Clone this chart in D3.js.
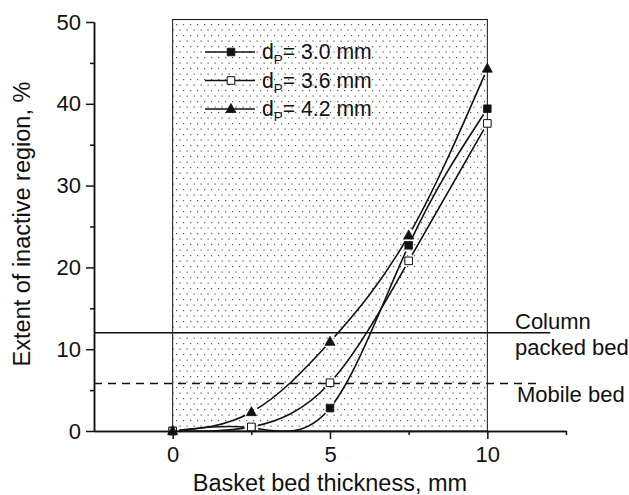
<!DOCTYPE html>
<html><head><meta charset="utf-8">
<script src="https://cdn.jsdelivr.net/npm/d3@7"></script>
<style>body{margin:0;background:#fff}svg{display:block}text{font-family:"Liberation Sans",Arial,sans-serif;fill:#111}</style>
</head><body><svg id="c" width="629" height="495"></svg>
<script>
const thickness = [0, 2.5, 5, 7.5, 10];
const dp30 = [0, 0.4, 2.8, 22.7, 39.4];
const dp36 = [0, 0.5, 5.9, 20.8, 37.6];
const dp42 = [0, 2.3, 10.9, 23.9, 44.3];
const seriesNames = ["3.0 mm", "3.6 mm", "4.2 mm"];
const seriesSymbols = ["filledSquare", "openSquare", "triangle"];
const xMajorTicks = [0, 5, 10];
const xMinorTicks = [2.5, 7.5, 12.5];
const yMajorTicks = [0, 10, 20, 30, 40, 50];
const yMinorTicks = [5, 15, 25, 35, 45];
const basketRegion = [0, 10];
const basketTop = 50.3;
const columnPackedLevel = 12.0;
const mobileBedLevel = 5.8;

const svg = d3.select("#c");
const x = d3.scaleLinear([-2.5, 12.5], [94, 566]);
const y = d3.scaleLinear([0, 50], [431, 22]);

const defs = svg.append("defs");
const pat = defs.append("pattern").attr("id", "dots").attr("patternUnits", "userSpaceOnUse")
  .attr("width", 7).attr("height", 11);
pat.append("rect").attr("width", 7).attr("height", 11).attr("fill", "#fff");
pat.append("rect").attr("x", 1).attr("y", 2).attr("width", 1.2).attr("height", 1.2).attr("fill", "#555");
pat.append("rect").attr("x", 4.5).attr("y", 7.5).attr("width", 1.2).attr("height", 1.2).attr("fill", "#555");

// basket region
svg.append("rect")
  .attr("x", x(basketRegion[0])).attr("y", y(basketTop))
  .attr("width", x(basketRegion[1]) - x(basketRegion[0]))
  .attr("height", y(0) - y(basketTop))
  .attr("fill", "url(#dots)").attr("stroke", "#111").attr("stroke-width", 1);

// reference lines
svg.append("line").attr("x1", x(-2.5)).attr("x2", x(12)).attr("y1", y(columnPackedLevel)).attr("y2", y(columnPackedLevel))
  .attr("stroke", "#111").attr("stroke-width", 1.5);
svg.append("line").attr("x1", x(-2.5)).attr("x2", x(11.7)).attr("y1", y(mobileBedLevel)).attr("y2", y(mobileBedLevel))
  .attr("stroke", "#111").attr("stroke-width", 1.5).attr("stroke-dasharray", "8,6");

svg.append("text").attr("x", 515).attr("y", 329).attr("font-size", 22).text("Column");
svg.append("text").attr("x", 515).attr("y", 355).attr("font-size", 22).text("packed bed");
svg.append("text").attr("x", 517).attr("y", 402).attr("font-size", 22).text("Mobile bed");

// axes
const ax = svg.append("g").attr("class", "axes");
ax.append("g").attr("transform", `translate(${x(-2.5)},0)`)
  .call(d3.axisLeft(y).tickValues(yMajorTicks).tickSize(8).tickSizeOuter(0).tickPadding(5));
ax.append("g").attr("transform", `translate(${x(-2.5)},0)`)
  .call(d3.axisLeft(y).tickValues(yMinorTicks).tickSize(4).tickSizeOuter(0).tickFormat(""));
ax.append("g").attr("transform", `translate(0,${y(0)})`)
  .call(d3.axisBottom(x).tickValues(xMajorTicks).tickSize(8).tickSizeOuter(0).tickPadding(7));
ax.append("g").attr("transform", `translate(0,${y(0)})`)
  .call(d3.axisBottom(x).tickValues(xMinorTicks).tickSize(4).tickSizeOuter(0).tickFormat(""));
ax.selectAll(".domain, .tick line").attr("stroke", "#111").attr("stroke-width", 1.5);
ax.selectAll(".tick text").attr("font-size", 22).attr("font-family", '"Liberation Sans",Arial,sans-serif').attr("fill", "#111");

svg.append("text").attr("x", 330).attr("y", 491).attr("text-anchor", "middle").attr("font-size", 23.5)
  .text("Basket bed thickness, mm");
svg.append("text").attr("transform", `translate(30,224) rotate(-90)`).attr("text-anchor", "middle").attr("font-size", 23.5)
  .text("Extent of inactive region, %");

// series
const allSeries = [dp30, dp36, dp42];
function symbolPath(kind) {
  if (kind === "triangle") return "M0,-5.5L5,3.5L-5,3.5Z";
  return "M-3.8,-3.8H3.8V3.8H-3.8Z";
}
function drawSymbol(g, kind, cx, cy) {
  g.append("path").attr("d", symbolPath(kind)).attr("transform", `translate(${cx},${cy})`)
    .attr("fill", kind === "openSquare" ? "#fff" : "#111")
    .attr("stroke", "#111").attr("stroke-width", kind === "openSquare" ? 1 : 0.8);
}
const line = d3.line().x((d, i) => x(thickness[i])).y(d => y(d)).curve(d3.curveNatural);

allSeries.forEach((vals, si) => {
  const m = defs.append("mask").attr("id", "gap" + si).attr("maskUnits", "userSpaceOnUse")
    .attr("x", 0).attr("y", 0).attr("width", 629).attr("height", 495);
  m.append("rect").attr("width", 629).attr("height", 495).attr("fill", "#fff");
  vals.forEach((v, i) => m.append("circle").attr("cx", x(thickness[i])).attr("cy", y(v)).attr("r", 7).attr("fill", "#000"));
  svg.append("path").datum(vals).attr("d", line).attr("fill", "none")
    .attr("stroke", "#111").attr("stroke-width", 1.6).attr("mask", `url(#gap${si})`);
});
const mk = svg.append("g");
allSeries.forEach((vals, si) => {
  vals.forEach((v, i) => drawSymbol(mk, seriesSymbols[si], x(thickness[i]), y(v)));
});

// legend
const lg = svg.append("g");
seriesNames.forEach((name, i) => {
  const cy = 52 + i * 28.5;
  lg.append("line").attr("x1", 205).attr("x2", 255).attr("y1", cy).attr("y2", cy).attr("stroke", "#111").attr("stroke-width", 1.6);
  drawSymbol(lg, seriesSymbols[i], 231, cy);
  const t = lg.append("text").attr("x", 262).attr("y", cy + 7).attr("font-size", 21.2);
  t.append("tspan").text("d");
  t.append("tspan").attr("dy", 5).attr("font-size", 13.5).text("P");
  t.append("tspan").attr("dy", -5).text("= " + name);
});
</script></body></html>
